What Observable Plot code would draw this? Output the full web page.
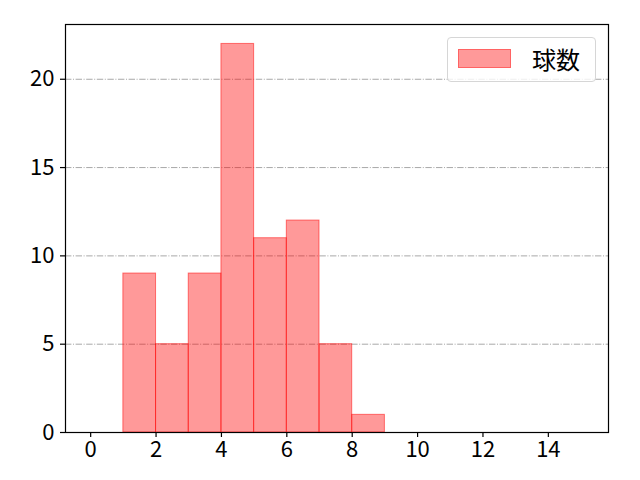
<!DOCTYPE html>
<html>
<head>
<meta charset="utf-8">
<script src="https://cdn.jsdelivr.net/npm/d3@7"></script>
<script src="https://cdn.jsdelivr.net/npm/@observablehq/plot@0.6"></script>
<style>
  body { margin: 0; background: #fff; }
  #wrap { position: relative; width: 640px; height: 480px; }
  #wrap svg text { font-family: "Noto Sans CJK JP", "Noto Sans", sans-serif; font-size: 22px; fill: #000; }
  #legend {
    position: absolute; left: 447px; top: 37px; width: 149px; height: 45px;
    border: 1px solid #d6d6d6; border-radius: 4px; background: rgba(255,255,255,0.8);
    box-sizing: border-box;
  }
  #legend .patch {
    position: absolute; left: 10px; top: 11px; width: 53px; height: 19px;
    background: rgba(255,0,0,0.4); border: 1px solid rgba(255,0,0,0.35); box-sizing: border-box;
  }
  #legend .label {
    position: absolute; left: 84px; top: 5px;
    font-family: "Noto Sans CJK JP", "Noto Sans CJK SC", sans-serif; font-size: 24px; line-height: 32px; color: #000;
  }
</style>
</head>
<body>
<div id="wrap"><div id="legend"><div class="patch"></div><div class="label">球数</div></div></div>
<script>
const binStart = [1, 2, 3, 4, 5, 6, 7, 8];
const binEnd = [2, 3, 4, 5, 6, 7, 8, 9];
const counts = [9, 5, 9, 22, 11, 12, 5, 1];
const xTicks = [0, 2, 4, 6, 8, 10, 12, 14];
const yTicks = [0, 5, 10, 15, 20];
const seriesName = "球数";

const data = binStart.map((s, i) => ({x1: s, x2: binEnd[i], y: counts[i], name: seriesName}));

const chart = Plot.plot({
  width: 640,
  height: 480,
  marginLeft: 65,
  marginRight: 32,
  marginTop: 24,
  marginBottom: 48,
  style: {fontFamily: "'Noto Sans CJK JP', sans-serif", fontSize: "22px", background: "white", color: "black"},
  x: {domain: [-0.77, 15.84], label: null},
  y: {domain: [0, 23.1], label: null},
  marks: [
    Plot.ruleY(yTicks.filter(d => d > 0), {stroke: "#a8a8a8", strokeWidth: 1, strokeDasharray: "6.4,1.6,1,1.6"}),
    Plot.rectY(data, {x1: "x1", x2: "x2", y: "y", fill: "red", fillOpacity: 0.4, stroke: "red", strokeOpacity: 0.5, strokeWidth: 1}),
    Plot.axisX({ticks: xTicks, tickSize: 5, tickPadding: 4, fontSize: 22, stroke: "black", strokeWidth: 1.2}),
    Plot.axisY({ticks: yTicks, tickSize: 5, tickPadding: 6, fontSize: 22, stroke: "black", strokeWidth: 1.2}),
    Plot.frame({stroke: "black", strokeWidth: 1.2})
  ]
});
document.getElementById("wrap").prepend(chart);
</script>
</body>
</html>
